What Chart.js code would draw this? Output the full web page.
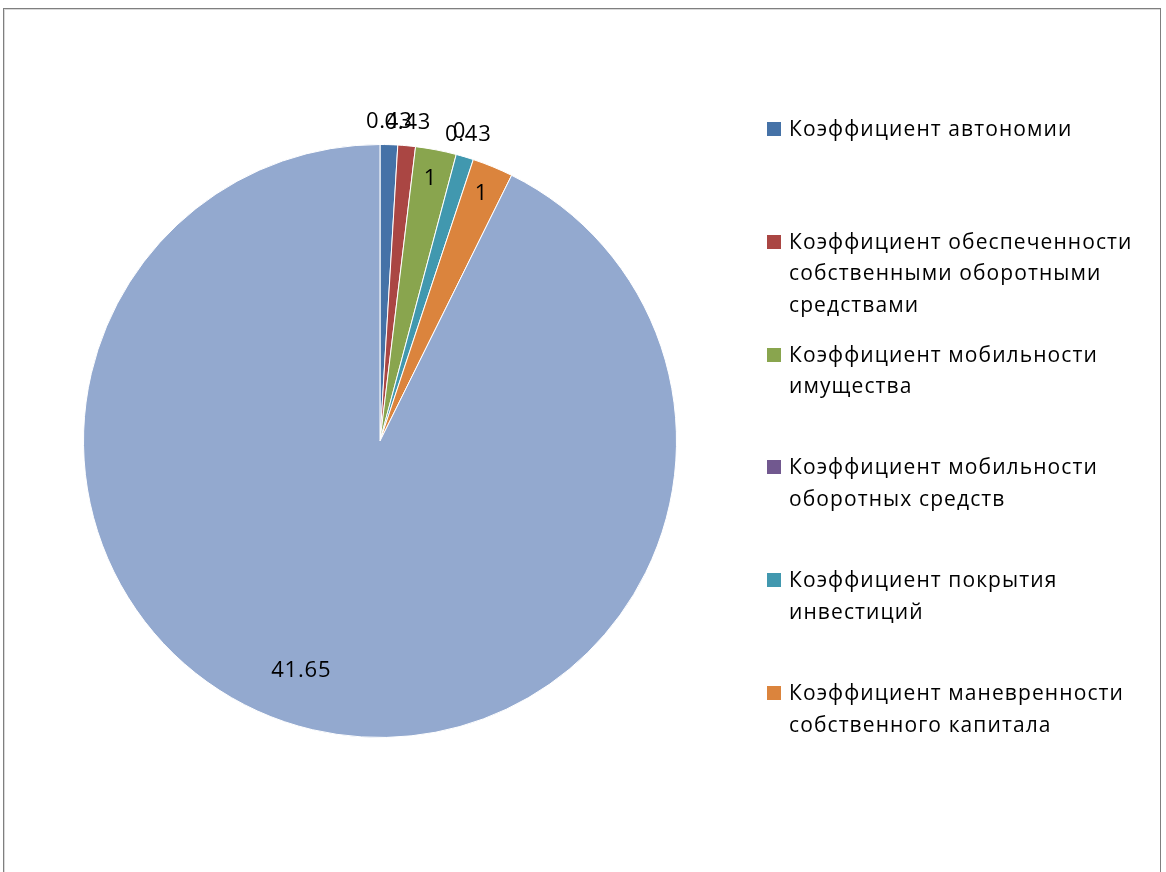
<!DOCTYPE html>
<html>
<head>
<meta charset="utf-8">
<script src="https://cdn.jsdelivr.net/npm/chart.js@4/dist/chart.umd.min.js"></script>
<style>
  html, body { margin: 0; padding: 0; background: #fff; }
  body { width: 1166px; height: 872px; position: relative; overflow: hidden; font-family: "Open Sans", sans-serif; }
  #frame { position: absolute; left: 3px; top: 8px; width: 1156px; height: 900px; border: 1px solid #7f7f7f; box-shadow: inset 1px 1px 0 #d9d9d9; }
  #wrap { position: absolute; left: 0; top: 0; width: 1166px; height: 872px; }
  #legend { position: absolute; left: 767px; top: 113px; }
  .item { position: absolute; left: 0; display: flex; align-items: flex-start; width: 395px; }
  .box { width: 14px; height: 14px; margin-top: 9px; margin-right: 8px; flex: none; }
  .txt { font-size: 21px; line-height: 31.5px; color: #000; letter-spacing: 1.1px; white-space: nowrap; }
</style>
</head>
<body>
<div id="frame"></div>
<div id="wrap"><canvas id="pie" width="1166" height="872"></canvas></div>
<div id="legend"></div>
<script>
const LABELS = [
    'Коэффициент автономии',
    'Коэффициент обеспеченности собственными оборотными средствами',
    'Коэффициент мобильности имущества',
    'Коэффициент мобильности оборотных средств',
    'Коэффициент покрытия инвестиций',
    'Коэффициент маневренности собственного капитала',
    ''
]
const LEGEND_LINES = [
    ['Коэффициент автономии'],
    ['Коэффициент обеспеченности', 'собственными оборотными', 'средствами'],
    ['Коэффициент мобильности', 'имущества'],
    ['Коэффициент мобильности', 'оборотных средств'],
    ['Коэффициент покрытия', 'инвестиций'],
    ['Коэффициент маневренности', 'собственного капитала']
]
const VALUES = [0.43, 0.43, 1, 0, 0.43, 1, 41.65]
const VALUE_TEXT = ['0.43', '0.43', '1', '0', '0.43', '1', '41.65']
const COLORS = ['#4572A7', '#AA4643', '#89A54E', '#71588F', '#4198AF', '#DB843D', '#93A9CF']

// labels: small slices sit just outside the rim, the rest inside
const sliceLabels = {
    id: 'sliceLabels',
    afterDatasetsDraw(chart) {
        const ctx = chart.ctx
        const meta = chart.getDatasetMeta(0)
        const total = VALUES.reduce((a, b) => a + b, 0)
        ctx.save()
        ctx.font = '22px "Open Sans", sans-serif'
        ctx.letterSpacing = '0.8px'
        ctx.fillStyle = '#000'
        ctx.textAlign = 'center'
        ctx.textBaseline = 'middle'
        meta.data.forEach((arc, i) => {
            const p = arc.getProps(['x', 'y', 'startAngle', 'endAngle', 'outerRadius'], true)
            const mid = (p.startAngle + p.endAngle) / 2
            const share = VALUES[i] / total
            let x, y
            if (share < 0.015) {
                const R = p.outerRadius + 12
                x = p.x + Math.cos(mid) * R
                y = p.y + Math.sin(mid) * R - 11
            } else if (share > 0.5) {
                const a = mid + 0.1
                x = p.x + Math.cos(a) * p.outerRadius * 0.82
                y = p.y + Math.sin(a) * p.outerRadius * 0.82
            } else {
                x = p.x + Math.cos(mid) * p.outerRadius * 0.9
                y = p.y + Math.sin(mid) * p.outerRadius * 0.9
            }
            ctx.fillText(VALUE_TEXT[i], x, y)
        })
        ctx.restore()
    }
}

const data = {
    labels: LABELS,
    datasets: [{
        data: VALUES,
        backgroundColor: COLORS,
        borderColor: '#ffffff',
        borderWidth: 1
    }]
}

const config = {
    type: 'pie',
    data: data,
    options: {
        responsive: false,
        animation: false,
        layout: { padding: { left: 83, right: 489, top: 143, bottom: 133 } },
        plugins: {
            legend: { display: false },
            tooltip: { enabled: false }
        }
    },
    plugins: [sliceLabels]
}
const myChart = new Chart(document.getElementById('pie'), config)

// html legend (the last slice has no legend entry)
const legend = document.getElementById('legend')
LEGEND_LINES.forEach((lines, i) => {
    const item = document.createElement('div')
    item.className = 'item'
    item.style.top = (i * 112.8) + 'px'
    const box = document.createElement('div')
    box.className = 'box'
    box.style.background = COLORS[i]
    const txt = document.createElement('div')
    txt.className = 'txt'
    txt.innerHTML = lines.join('<br>')
    item.appendChild(box)
    item.appendChild(txt)
    legend.appendChild(item)
})
</script>
</body>
</html>
